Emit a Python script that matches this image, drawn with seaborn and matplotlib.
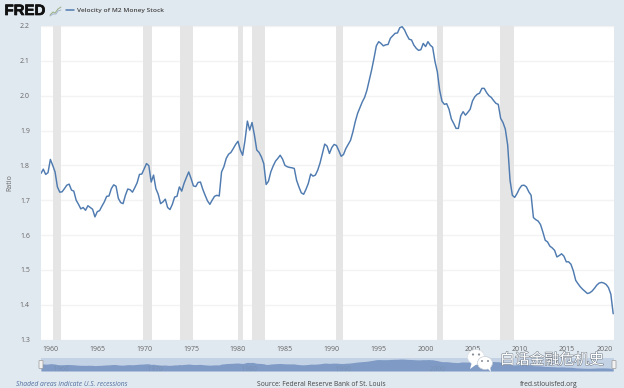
#!/usr/bin/env python

import pandas as pd
import matplotlib.pyplot as plt
from matplotlib.patches import Ellipse, FancyBboxPatch, Polygon
import matplotlib.patheffects as pe
import seaborn as sns

# quarterly velocity of M2, 1959Q1 on
velocity_1959 = [1.777, 1.789, 1.774, 1.779, 1.817, 1.800, 1.781, 1.738, 1.723, 1.724,
                 1.733, 1.743, 1.746, 1.729, 1.726, 1.700, 1.688, 1.675, 1.679, 1.671,
                 1.684, 1.679, 1.674, 1.652, 1.667, 1.670, 1.683, 1.695, 1.711, 1.712,
                 1.733, 1.744, 1.740, 1.705, 1.693, 1.690, 1.714, 1.732, 1.730, 1.723,
                 1.736, 1.750, 1.774, 1.775, 1.790, 1.805, 1.799, 1.752, 1.772, 1.733,
                 1.717, 1.690, 1.695, 1.703, 1.679, 1.673, 1.688, 1.709, 1.711, 1.738,
                 1.726, 1.748, 1.765, 1.781, 1.762, 1.741, 1.739, 1.751, 1.752, 1.731,
                 1.714, 1.698, 1.688, 1.700, 1.711, 1.714, 1.712, 1.781, 1.796, 1.820,
                 1.832]
velocity_1979 = [1.837, 1.848, 1.860, 1.869, 1.844, 1.829, 1.872, 1.927, 1.901, 1.923,
                 1.887, 1.844, 1.837, 1.824, 1.805, 1.745, 1.754, 1.781, 1.798, 1.812,
                 1.820, 1.829, 1.818, 1.800, 1.796, 1.794, 1.793, 1.791, 1.757, 1.738,
                 1.721, 1.717, 1.731, 1.748, 1.775, 1.769, 1.772, 1.786, 1.807, 1.834,
                 1.861, 1.855, 1.834, 1.851, 1.860, 1.857, 1.842, 1.826, 1.831, 1.848,
                 1.860, 1.872, 1.896, 1.925, 1.949, 1.966, 1.982, 1.995, 2.016]
velocity_1994 = [2.045, 2.074, 2.107, 2.143, 2.155, 2.150, 2.143, 2.146, 2.147, 2.165,
                 2.172, 2.179, 2.180, 2.195, 2.198, 2.189, 2.174, 2.162, 2.160, 2.145,
                 2.136, 2.130, 2.132, 2.150, 2.141, 2.155, 2.145, 2.139, 2.098, 2.069,
                 2.016, 1.984, 1.975, 1.977, 1.961, 1.933, 1.920, 1.906, 1.906, 1.942,
                 1.954, 1.944, 1.952, 1.961, 1.985, 1.997, 2.004, 2.007, 2.021, 2.021,
                 2.009, 2.000, 1.995, 1.986, 1.978, 1.975, 1.935, 1.923, 1.904, 1.858]
velocity_2009 = [1.757, 1.714, 1.708, 1.719, 1.733, 1.742, 1.743, 1.738, 1.724, 1.714,
                 1.650, 1.644, 1.640, 1.630, 1.609, 1.585, 1.580, 1.568, 1.563, 1.556,
                 1.537, 1.541, 1.546, 1.539, 1.523, 1.523, 1.516, 1.497, 1.470, 1.460,
                 1.451, 1.444, 1.438, 1.432, 1.434, 1.439, 1.447, 1.456, 1.462, 1.464,
                 1.462, 1.458, 1.449, 1.430, 1.374]
velocity = velocity_1959 + velocity_1979 + velocity_1994 + velocity_2009

recessions = [("1960-04-01", "1961-02-01"), ("1969-12-01", "1970-11-01"),
              ("1973-11-01", "1975-03-01"), ("1980-01-01", "1980-07-01"),
              ("1981-07-01", "1982-11-01"), ("1990-07-01", "1991-03-01"),
              ("2001-03-01", "2001-11-01"), ("2007-12-01", "2009-06-01")]

y_ticks = [1.3, 1.4, 1.5, 1.6, 1.7, 1.8, 1.9, 2.0, 2.1, 2.2]
x_years = [1960, 1965, 1970, 1975, 1980, 1985, 1990, 1995, 2000, 2005, 2010, 2015, 2020]
nav_years = [1960, 1970, 1980, 1990, 2000]

BG = "#e1e9f0"
LINE = "#4f7bb0"
W, H = 624, 388

sns.set_theme(style="white")
plt.rcParams["font.family"] = ["Open Sans", "DejaVu Sans"]

df = pd.DataFrame({"date": pd.date_range("1959-01-01", periods=len(velocity), freq="QS"),
                   "velocity": velocity})
x_start, x_end = pd.Timestamp("1959-01-01"), pd.Timestamp("2020-02-01")


def box(left, top, right, bottom):
    return [left / W, 1 - bottom / H, (right - left) / W, (bottom - top) / H]


fig = plt.figure(figsize=(W / 100, H / 100), dpi=100, facecolor=BG)

# main chart
ax = fig.add_axes(box(41, 26, 614, 339.5))
for start, end in recessions:
    ax.axvspan(pd.Timestamp(start), pd.Timestamp(end), color="#e5e5e5", lw=0, zorder=1)
ax.grid(axis="y", color="#f3f3f3", lw=1)
ax.set_axisbelow(True)
sns.lineplot(data=df, x="date", y="velocity", color=LINE, lw=1.05, ax=ax, zorder=3)
ax.set_xlim(x_start, x_end)
ax.set_ylim(1.3, 2.2)
ax.set_yticks(y_ticks)
ax.set_yticklabels([f"{v:.1f}" for v in y_ticks])
ax.set_xticks([pd.Timestamp(f"{y}-01-01") for y in x_years])
ax.set_xticklabels([str(y) for y in x_years])
ax.get_xticklabels()[-1].set_ha("right")
ax.tick_params(axis="both", length=0, labelsize=5.0, labelcolor="#666666")
ax.tick_params(axis="y", pad=8)
ax.tick_params(axis="x", pad=5)
ax.set_xlabel("")
ax.set_ylabel("Ratio", fontsize=5.0, color="#666666", labelpad=5)
sns.despine(ax=ax, left=True, bottom=True, top=True, right=True)

# navigator strip under the chart
nav = fig.add_axes(box(41, 358, 614, 371))
nav.set_facecolor("#c4d2e6")
nav.fill_between(df["date"], df["velocity"], 1.204, color="#7f9bc5", lw=0)
nav.set_xlim(x_start, x_end)
nav.set_ylim(1.204, 2.283)
nav.set_xticks([])
nav.set_yticks([])
for year in nav_years:
    nav.text(pd.Timestamp(f"{year}-01-01"), 1.33, f"  {year}", fontsize=4.8,
             color="#7890b5", ha="left", va="center")
sns.despine(ax=nav, left=True, bottom=True, top=True, right=True)

# header, footer and watermark, drawn in pixel coordinates
over = fig.add_axes([0, 0, 1, 1], facecolor="none", zorder=5)
over.set_xlim(0, W)
over.set_ylim(H, 0)
over.axis("off")

over.text(4.5, 11, "FRED", fontsize=10.8, fontweight="bold", color="#111111",
          family="Liberation Sans", va="center", ha="left",
          path_effects=[pe.withStroke(linewidth=0.5, foreground="#111111")])
over.plot([50, 53, 55, 58, 61], [15, 12, 13, 9, 7], color="#9aae85", lw=0.7)
over.plot([50, 53, 56, 58, 61], [16, 14, 14, 11, 10], color="#a3b6cc", lw=0.7)
over.plot([66, 74], [10, 10], color=LINE, lw=1.1)
over.text(77, 10.5, "Velocity of M2 Money Stock", fontsize=4.65, color="#444444",
          fontweight="semibold", va="center", ha="left")

over.text(16.5, 384, "Shaded areas indicate U.S. recessions", fontsize=4.9, style="italic",
          color="#4f6f9f", va="center", ha="left")
over.text(257, 384, "Source: Federal Reserve Bank of St. Louis", fontsize=4.9,
          color="#444444", va="center", ha="left")
over.text(520, 384, "fred.stlouisfed.org", fontsize=4.9, color="#444444", va="center", ha="left")

for hx in (41, 614):
    over.add_patch(FancyBboxPatch((hx - 1.5, 361), 3, 7, boxstyle="round,pad=0.5",
                                  fc="#f2f2f2", ec="#999999", lw=0.5))

over.add_patch(Ellipse((476, 357), 17, 15, fc="white", ec="#d5dbe2", lw=0.4))
over.add_patch(Polygon([[472, 362], [470, 369], [477, 364]], fc="white", ec="none"))
over.add_patch(Ellipse((485, 363), 15, 13, fc="white", ec="#c5ccd5", lw=0.5))
over.add_patch(Polygon([[487, 368], [491, 372], [490, 366]], fc="white", ec="none"))
for ex, ey in [(473, 354.5), (479, 354.5)]:
    over.add_patch(Ellipse((ex, ey), 2.2, 2.2, fc="#8a8f96", ec="none"))
for ex, ey in [(482, 361), (488, 361)]:
    over.add_patch(Ellipse((ex, ey), 2, 2, fc="#8a8f96", ec="none"))
over.text(552, 360, "白话金融危机史", fontsize=10.7, color="white", family="Noto Sans CJK SC",
          va="center", ha="center",
          path_effects=[pe.withStroke(linewidth=0.7, foreground="#6d7884")])

fig.savefig("out.png", dpi=100, facecolor=BG)
